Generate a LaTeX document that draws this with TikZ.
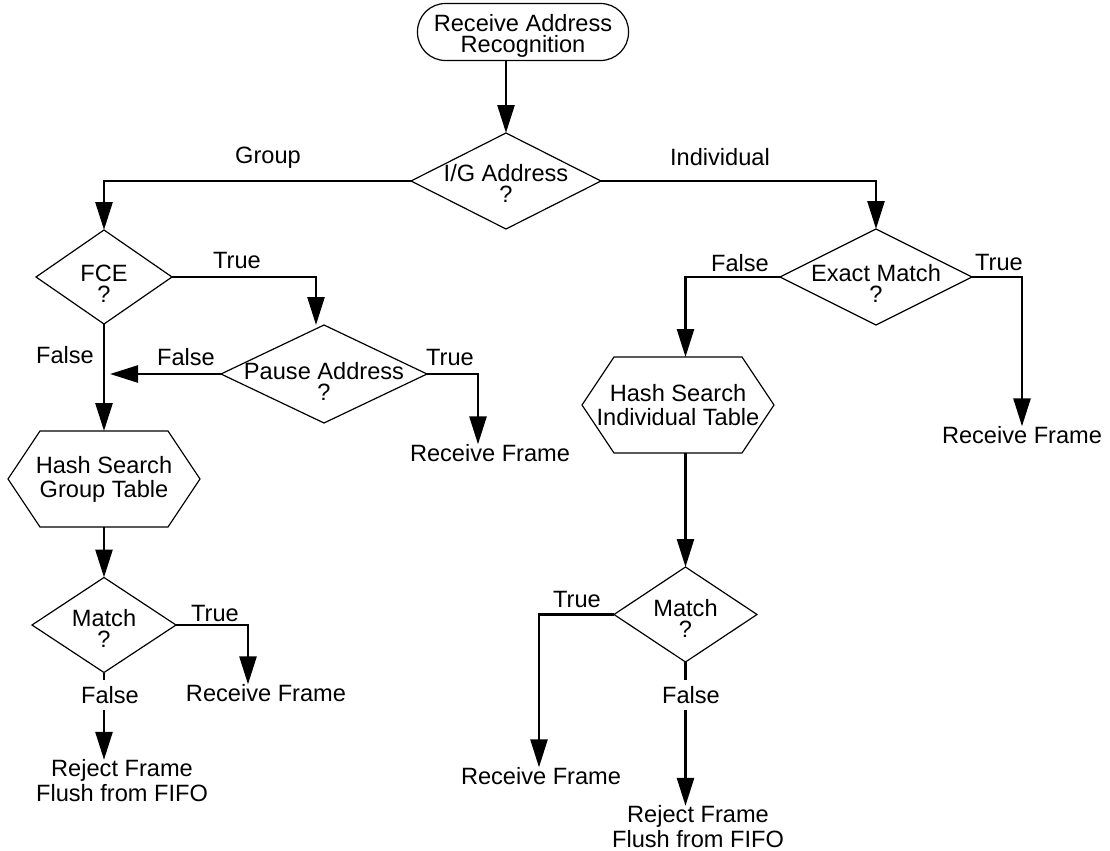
\documentclass[tikz,border=0pt]{standalone}
\usepackage{fontspec}
\setmainfont{Liberation Sans}
\usetikzlibrary{arrows.meta,calc}
\begin{document}
\begin{tikzpicture}[x=0.5pt,y=-0.5pt,
  every node/.style={font=\fontsize{11.8}{12.5}\selectfont, inner sep=0pt, outer sep=0pt},
  shapeline/.style={line width=0.6pt},
  conn/.style={line width=1.3pt, -{Triangle[length=14pt,width=8.5pt]}},
  term/.style={draw, line width=0.6pt, rounded corners=14pt, minimum width=105.5pt, minimum height=28.5pt, align=center, text height=20.5pt, text depth=0pt, font=\fontsize{11.8}{10.5}\selectfont},
  dbox/.style n args={3}{minimum width=#1, minimum height=#2, text height=#3, text depth=0pt, align=center, font=\fontsize{11.8}{10.5}\selectfont},
  hbox/.style={minimum width=96pt, minimum height=48pt, align=center, font=\fontsize{11.8}{12}\selectfont},
  txt/.style={align=center},
  gaplbl/.style={fill=white, inner ysep=3pt, inner xsep=1pt}
]
\useasboundingbox (0,0) rectangle (1110,851);

% main nodes
\node[term] (start) at (523,32) {Receive Address\\Recognition};
\node[dbox={95pt}{48pt}{21pt}] (ig) at (506,181) {I/G Address\\?};
\node[dbox={68pt}{47pt}{25pt}] (fce) at (104,277) {FCE\\?};
\node[dbox={103pt}{49pt}{26pt}] (pause) at (324,374) {Pause Address\\?};
\node[hbox] (hashg) at (104,479) {Hash Search\\Group Table};
\node[dbox={72pt}{47.5pt}{22pt}] (matchl) at (104,625) {Match\\?};
\node[dbox={96pt}{48pt}{25pt}] (exact) at (876,277) {Exact Match\\?};
\node[hbox] (hashi) at (678,405) {Hash Search\\Individual Table};
\node[dbox={71.5pt}{47.5pt}{22.5pt}] (matchr) at (685.5,614.5) {Match\\?};

% end texts
\node[txt] (rf1) at (490,453) {Receive Frame};
\node[txt] (rf2) at (266,693) {Receive Frame};
\node[txt] (rej1) at (122,781) {Reject Frame\\Flush from FIFO};
\node[txt] (rf3) at (1022,435) {Receive Frame};
\node[txt] (rf4) at (541,776) {Receive Frame};
\node[txt] (rej2) at (698,827) {Reject Frame\\Flush from FIFO};

% outlines
\foreach \n in {ig,fce,pause,matchl,exact,matchr}
  \draw[shapeline] (\n.north) -- (\n.east) -- (\n.south) -- (\n.west) -- cycle;
\foreach \n in {hashg,hashi}
  \draw[shapeline] ($(\n.north west)+(32,0)$) -- ($(\n.north east)+(-32,0)$) -- (\n.east)
    -- ($(\n.south east)+(-32,0)$) -- ($(\n.south west)+(32,0)$) -- (\n.west) -- cycle;

% connectors
\draw[conn] (start.south -| ig.north) -- (ig.north);
\draw[conn] (ig.west) -| (fce.north);
\draw[conn] (ig.east) -| (exact.north);
\draw[conn] (fce.east) -| ($(pause.north)+(-8,0)$);
\draw[conn] (fce.south) -- (hashg.north);
\draw[conn] (pause.west) -- ($(fce.south |- pause.west)+(6,0)$);
\draw[conn] (pause.east) -| ($(rf1.north)+(-12,0)$);
\draw[conn] (hashg.south) -- (matchl.north);
\draw[conn] (matchl.east) -| ($(rf2.north)+(-18,0)$);
\draw[conn] (matchl.south) -- (matchl.south |- rej1.north);
\draw[conn] (exact.west) -| (matchr.north |- hashi.north);
\draw[conn] (exact.east) -| (rf3.north);
\draw[conn] (matchr.north |- hashi.south) -- (matchr.north);
\draw[conn] (matchr.west) -| ($(rf4.north)+(-2,0)$);
\draw[conn] (matchr.south) -- (matchr.south |- rej2.north);

% labels
\node (lgroup) at (268,158) {Group};
\node (lindiv) at (720,157) {Individual};
\node (lfcet) at (237,260) {True};
\node (lfcef) at (65,355) {False};
\node (lpf) at (186,357) {False};
\node (lpt) at (450,357) {True};
\node (lmlt) at (215,613) {True};
\node[gaplbl] (lmlf) at (110,695) {False};
\node (lef) at (740,263) {False};
\node (let) at (999,262) {True};
\node (lmrt) at (577,599) {True};
\node[gaplbl] (lmrf) at (691,695) {False};
\end{tikzpicture}
\end{document}
